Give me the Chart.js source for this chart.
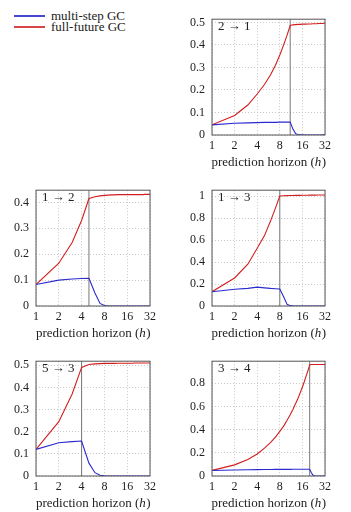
<!DOCTYPE html>
<html>
<head>
<meta charset="utf-8">
<script src="https://cdn.jsdelivr.net/npm/chart.js@4/dist/chart.umd.min.js"></script>
<style>
  body { margin: 0; background: #fff; width: 351px; height: 512px; position: relative; overflow: hidden; font-family: "Liberation Serif", serif; color: #222; }
  .box { position: absolute; }
  .leg { position: absolute; left: 14px; width: 31px; height: 2px; z-index: 2; }
  .legtxt { position: absolute; left: 51px; font-size: 13px; line-height: 13px; white-space: nowrap; }
</style>
</head>
<body>
<div class="legtxt" style="top:9px">multi-step GC</div>
<div class="legtxt" style="top:20px">full-future GC</div>
<div class="leg" style="top:15px;background-color:rgb(70,70,215)"></div>
<div class="leg" style="top:26px;background-color:rgb(215,70,70)"></div>

<div class="box" style="left:175px;top:5px"><canvas id="c21" width="160" height="166"></canvas></div>
<div class="box" style="left:0px;top:176px"><canvas id="c12" width="160" height="166"></canvas></div>
<div class="box" style="left:175px;top:176px"><canvas id="c13" width="160" height="166"></canvas></div>
<div class="box" style="left:0px;top:347px"><canvas id="c53" width="160" height="165"></canvas></div>
<div class="box" style="left:175px;top:347px"><canvas id="c34" width="160" height="165"></canvas></div>

<script>
// prediction horizons h = 1..32
const horizons = [1,2,3,4,5,6,7,8,9,10,11,12,13,14,15,16,17,18,19,20,21,22,23,24,25,26,27,28,29,30,31,32];
const xTicks = [1, 2, 4, 8, 16, 32];

// 2 -> 1
const multi21 = [0.045,0.052,0.054,0.055,0.056,0.056,0.056,0.057,0.057,0.057,0.057,0.025,0.006,0.002,0.001,0.001,0,0,0,0,0,0,0,0,0,0,0,0,0,0.001,0.001,0.001];
const full21  = [0.045,0.087,0.133,0.182,0.224,0.266,0.31,0.355,0.4,0.443,0.486,0.489,0.49,0.491,0.491,0.492,0.492,0.492,0.493,0.493,0.493,0.494,0.494,0.494,0.494,0.495,0.495,0.495,0.495,0.495,0.496,0.496];
// 1 -> 2
const multi12 = [0.083,0.1,0.104,0.106,0.107,0.05,0.01,0.002,0,0,0,0,0,0,0,0,0,0,0,0,0,0,0,0,0,0,0,0,0,0,0,0];
const full12  = [0.083,0.165,0.245,0.33,0.415,0.422,0.425,0.427,0.428,0.429,0.429,0.43,0.43,0.43,0.43,0.43,0.43,0.43,0.43,0.43,0.43,0.43,0.43,0.43,0.43,0.43,0.431,0.431,0.431,0.431,0.431,0.431];
// 1 -> 3
const multi13 = [0.13,0.152,0.16,0.172,0.165,0.16,0.157,0.155,0.085,0.015,0.003,0.001,0,0,0,0,0,0,0,0,0,0,0,0,0,0,0,0,0,0,0,0];
const full13  = [0.13,0.255,0.38,0.525,0.64,0.77,0.89,1.0,1.003,1.004,1.005,1.005,1.006,1.006,1.006,1.007,1.007,1.007,1.007,1.008,1.008,1.008,1.008,1.008,1.009,1.009,1.009,1.009,1.009,1.01,1.01,1.01];
// 5 -> 3
const multi53 = [0.12,0.15,0.155,0.158,0.058,0.015,0.003,0.001,0,0,0,0,0,0,0,0,0,0,0,0,0,0,0,0,0,0,0,0,0,0,0,0];
const full53  = [0.12,0.245,0.37,0.49,0.503,0.506,0.507,0.508,0.508,0.508,0.508,0.509,0.509,0.509,0.509,0.509,0.509,0.509,0.509,0.51,0.51,0.51,0.51,0.51,0.51,0.51,0.51,0.51,0.51,0.51,0.51,0.51];
// 3 -> 4
const multi34 = [0.048,0.052,0.054,0.055,0.056,0.056,0.057,0.057,0.057,0.057,0.057,0.058,0.058,0.058,0.058,0.058,0.058,0.058,0.058,0.058,0.03,0.008,0.001,0,0,0,0,0,0,0,0,0];
const full34  = [0.048,0.096,0.143,0.19,0.24,0.288,0.335,0.385,0.43,0.48,0.528,0.575,0.625,0.67,0.72,0.768,0.815,0.865,0.91,0.958,0.962,0.962,0.962,0.962,0.962,0.962,0.962,0.962,0.962,0.962,0.962,0.962];

const panelNames = ['2 \u2192 1', '1 \u2192 2', '1 \u2192 3', '5 \u2192 3', '3 \u2192 4'];
const splitH = [11, 5, 8, 4, 20];
const yMax = [0.514, 0.447, 1.053, 0.518, 0.99];
const yTicks = [
  [0, 0.1, 0.2, 0.3, 0.4, 0.5],
  [0, 0.1, 0.2, 0.3, 0.4],
  [0, 0.2, 0.4, 0.6, 0.8, 1],
  [0, 0.1, 0.2, 0.3, 0.4, 0.5],
  [0, 0.2, 0.4, 0.6, 0.8]
];
const multiSeries = [multi21, multi12, multi13, multi53, multi34];
const fullSeries = [full21, full12, full13, full53, full34];

const BLUE = 'rgb(42,42,208)', RED = 'rgb(210,30,30)';
const GRID = '#c8c8c8', FRAME = '#555', TEXT = '#222';
const SERIF = '"Liberation Serif", serif';

// split line, frame, panel name and axis title
const panelPlugin = {
  id: 'panel',
  beforeDatasetsDraw(chart, args, opts) {
    const ctx = chart.ctx, a = chart.chartArea;
    const x = chart.scales.x.getPixelForValue(opts.split);
    ctx.save();
    ctx.strokeStyle = '#777';
    ctx.lineWidth = 1;
    ctx.beginPath();
    ctx.moveTo(x, a.top);
    ctx.lineTo(x, a.bottom);
    ctx.stroke();
    ctx.restore();
  },
  afterDatasetsDraw(chart, args, opts) {
    const ctx = chart.ctx, a = chart.chartArea;
    ctx.save();
    ctx.strokeStyle = FRAME;
    ctx.lineWidth = 1;
    ctx.strokeRect(a.left, a.top, a.right - a.left, a.bottom - a.top);

    ctx.fillStyle = TEXT;
    ctx.font = '13px ' + SERIF;
    ctx.textBaseline = 'top';
    ctx.textAlign = 'left';
    ctx.fillText(opts.name, a.left + 6, a.top + 1);

    // x axis title with italic h
    const p1 = 'prediction horizon (', p2 = 'h', p3 = ')';
    ctx.font = '13px ' + SERIF;
    const w1 = ctx.measureText(p1).width, w3 = ctx.measureText(p3).width;
    ctx.font = 'italic 13px ' + SERIF;
    const w2 = ctx.measureText(p2).width;
    const x = (a.left + a.right) / 2 - (w1 + w2 + w3) / 2;
    const y = a.bottom + 28;
    ctx.textBaseline = 'middle';
    ctx.font = '13px ' + SERIF;
    ctx.fillText(p1, x, y);
    ctx.font = 'italic 13px ' + SERIF;
    ctx.fillText(p2, x + w1, y);
    ctx.font = '13px ' + SERIF;
    ctx.fillText(p3, x + w1 + w2 + 0.5, y);
    ctx.restore();
  }
};

function makeChart(id, i, yWidth) {
  const ctx = document.getElementById(id).getContext('2d');
  return new Chart(ctx, {
    type: 'line',
    data: {
      labels: horizons,
      datasets: [{
        label: 'multi-step GC',
        data: horizons.map((h, k) => ({ x: h, y: multiSeries[i][k] })),
        borderColor: BLUE,
        borderWidth: 1.1,
        pointRadius: 0,
        tension: 0
      }, {
        label: 'full-future GC',
        data: horizons.map((h, k) => ({ x: h, y: fullSeries[i][k] })),
        borderColor: RED,
        borderWidth: 1.1,
        pointRadius: 0,
        tension: 0
      }]
    },
    options: {
      responsive: false,
      animation: false,
      layout: { padding: { top: 5, right: 4, left: 0, bottom: 0 } },
      plugins: {
        legend: { display: false },
        tooltip: { enabled: false },
        panel: { name: panelNames[i], split: splitH[i] }
      },
      scales: {
        x: {
          type: 'logarithmic',
          min: 1,
          max: 32,
          afterBuildTicks: s => { s.ticks = xTicks.map(v => ({ value: v })); },
          afterFit: s => { s.height = 36; },
          ticks: {
            callback: v => String(v),
            autoSkip: false,
            maxRotation: 0,
            padding: 4,
            color: TEXT,
            font: { family: SERIF, size: 12 }
          },
          grid: { color: GRID, lineWidth: 1, drawTicks: false },
          border: { display: false, dash: [1, 2] }
        },
        y: {
          min: 0,
          max: yMax[i],
          afterBuildTicks: s => { s.ticks = yTicks[i].map(v => ({ value: v })); },
          afterFit: s => { s.width = yWidth; },
          ticks: {
            callback: v => String(+v.toFixed(2)),
            padding: 7,
            color: TEXT,
            font: { family: SERIF, size: 12 }
          },
          grid: { color: GRID, lineWidth: 1, drawTicks: false },
          border: { display: false, dash: [1, 2] }
        }
      }
    },
    plugins: [panelPlugin]
  });
}

makeChart('c21', 0, 37);
makeChart('c12', 1, 36);
makeChart('c13', 2, 37);
makeChart('c53', 3, 36);
makeChart('c34', 4, 37);
</script>
</body>
</html>
